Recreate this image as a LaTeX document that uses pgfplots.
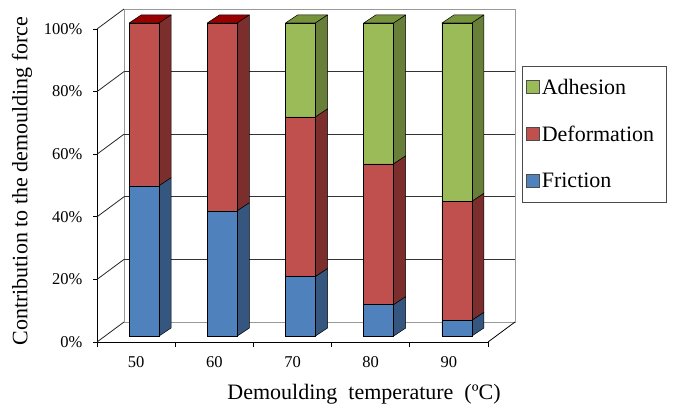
\documentclass[border=0pt]{standalone}
\usepackage{pgfplots}
\usepackage{pgfplotstable}
\pgfplotsset{compat=1.18}
\usepackage{fontspec}
\setmainfont{Liberation Serif}
\newcommand\tfont{\fontsize{16.5}{18}\selectfont}
\newcommand\lfont{\fontsize{22}{26}\selectfont}
\definecolor{cB}{HTML}{4F81BD}
\definecolor{cR}{HTML}{C0504D}
\definecolor{cG}{HTML}{9BBB59}
\definecolor{sB}{HTML}{35577F}
\definecolor{sR}{HTML}{7B2E2C}
\definecolor{sG}{HTML}{687F3A}
\definecolor{tR}{HTML}{990000}
\definecolor{tG}{HTML}{77933C}

\pgfplotstableread{
x   F  D  A
0.5 48 52 0
1.5 40 60 0
2.5 19 51 30
3.5 10 45 45
4.5 5  38 57
}\data

\newcommand\sideface[4]{\draw[fill=#4, draw=black, line width=0.5pt, line join=round]
  ([xshift=15pt]axis cs:#1,#2) -- ([xshift=27pt,yshift=8pt]axis cs:#1,#2) --
  ([xshift=27pt,yshift=8pt]axis cs:#1,#3) -- ([xshift=15pt]axis cs:#1,#3) -- cycle;}
\newcommand\topface[3]{\draw[fill=#3, draw=black, line width=0.5pt, line join=round]
  ([xshift=-15pt]axis cs:#1,#2) -- ([xshift=15pt]axis cs:#1,#2) --
  ([xshift=27pt,yshift=8pt]axis cs:#1,#2) -- ([xshift=-3pt,yshift=8pt]axis cs:#1,#2) -- cycle;}

\begin{document}
\begin{tikzpicture}
\useasboundingbox (0,0) rectangle (676pt,407pt);
% frame axis (front plane)
\begin{axis}[
  at={(97pt,65pt)}, anchor=south west,
  scale only axis, width=391pt, height=313pt,
  xmin=0, xmax=5, ymin=0, ymax=100,
  axis x line*=bottom, axis y line*=left,
  axis line style={black, line width=0.8pt},
  ytick={0,20,...,100},
  yticklabel={\pgfmathprintnumber[fixed,precision=0]{\tick}\%},
  xtick={0.5,1.5,...,4.5}, xticklabels={50,60,70,80,90},
  minor xtick={0,...,5},
  major x tick style={draw=none},
  tick align=outside,
  major tick length=4pt, minor tick length=5pt,
  every tick/.style={black, line width=0.8pt},
  /pgf/number format/assume math mode=true,
  ticklabel style={font=\tfont},
  yticklabel style={xshift=-7pt},
  xticklabel style={yshift=-7pt},
  clip=false,
]
\draw[black!40, line width=0.8pt] ([shift={(27pt,20pt)}]axis cs:0,0) rectangle ([shift={(27pt,20pt)}]axis cs:5,100);
\pgfplotsinvokeforeach{20,40,60,80}{
  \draw[black!80, line width=0.8pt] ([shift={(27pt,20pt)}]axis cs:0,#1) -- ([shift={(27pt,20pt)}]axis cs:5,#1);
}
\pgfplotsinvokeforeach{0,20,40,60,80,100}{
  \draw[black!85, line width=0.8pt] (axis cs:0,#1) -- ([shift={(27pt,20pt)}]axis cs:0,#1);
}
\draw[black, line width=0.8pt] (axis cs:5,0) -- ([shift={(27pt,20pt)}]axis cs:5,0);
\end{axis}

% bars
\begin{axis}[
  at={(105pt,71pt)}, anchor=south west,
  scale only axis, width=391pt, height=313pt,
  xmin=0, xmax=5, ymin=0, ymax=100,
  hide axis, clip=false,
  ybar stacked, bar width=30pt,
  reverse legend,
  legend image code/.code={\draw[#1, draw=black!70, line width=0.5pt] (0pt,-6pt) rectangle (13pt,7pt);},
  legend style={at={(1.0665,0.8626)}, anchor=north west, draw=black!70, line width=0.6pt,
    font=\lfont, inner xsep=4pt, inner ysep=11pt, row sep=26pt,
    nodes={inner sep=2pt}, cells={anchor=west}},
]
\addplot[fill=cB, draw=black, line width=0.5pt] table[x=x,y=F]{\data};
\addlegendentry{\makebox[118pt][l]{Friction}}
\addplot[fill=cR, draw=black, line width=0.5pt] table[x=x,y=D]{\data};
\addlegendentry{\makebox[118pt][l]{Deformation}}
\addplot[fill=cG, draw=black, line width=0.5pt] table[x=x,y=A]{\data};
\addlegendentry{\makebox[118pt][l]{Adhesion}}
\pgfplotsinvokeforeach{0,1,2,3,4}{
  \pgfplotstablegetelem{#1}{x}\of\data \let\bx\pgfplotsretval
  \pgfplotstablegetelem{#1}{F}\of\data \let\bF\pgfplotsretval
  \pgfplotstablegetelem{#1}{D}\of\data \let\bD\pgfplotsretval
  \pgfplotstablegetelem{#1}{A}\of\data \let\bA\pgfplotsretval
  \pgfmathsetmacro\sa{\bF}
  \pgfmathsetmacro\sb{\bF+\bD}
  \pgfmathsetmacro\sc{\bF+\bD+\bA}
  \ifdim\bA pt>0pt \def\tc{tG}\else\def\tc{tR}\fi
  \edef\tmp{%
    \noexpand\sideface{\bx}{0}{\sa}{sB}%
    \noexpand\sideface{\bx}{\sa}{\sb}{sR}%
    \noexpand\sideface{\bx}{\sb}{\sc}{sG}%
    \noexpand\topface{\bx}{\sc}{\tc}%
  }\tmp
}
\end{axis}

\node[font=\lfont, rotate=90] at (22pt,226pt) {Contribution to the demoulding force};
\node[font=\lfont] at (364pt,13pt) {Demoulding\ \ temperature\ \ (ºC)};
\end{tikzpicture}
\end{document}
